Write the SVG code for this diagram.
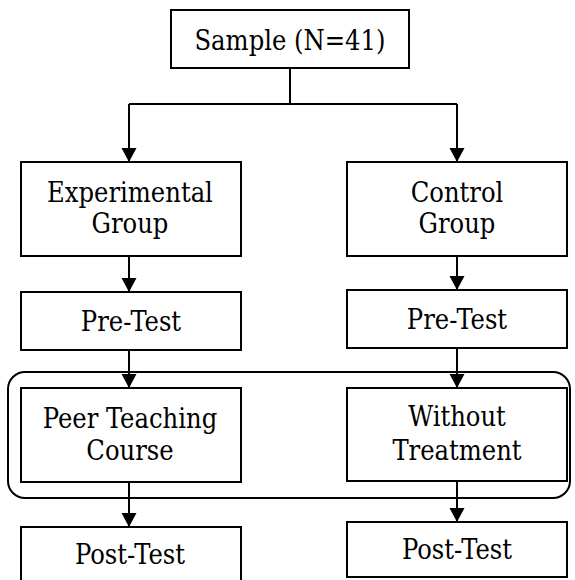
<svg xmlns="http://www.w3.org/2000/svg" width="575" height="580" viewBox="0 0 575 580">
<style>
.box{fill:#fff;stroke:#000;stroke-width:2}
.frame{fill:none;stroke:#000;stroke-width:2}
.ln{fill:none;stroke:#000;stroke-width:2}
text{font-family:"DejaVu Serif Condensed","DejaVu Serif","Liberation Serif",serif;font-stretch:condensed;font-size:27px;fill:#000;text-anchor:middle}
</style>
<defs>
<marker id="arr" markerUnits="userSpaceOnUse" markerWidth="16" markerHeight="16" refX="14" refY="7.5" orient="auto" viewBox="0 0 16 16">
<path d="M0,0 L14,7.5 L0,15 z" fill="#000"/>
</marker>
</defs>
<rect class="frame" x="8" y="372" width="562" height="126" rx="17"/>
<g id="connectors">
<path class="ln" d="M290,68 V104 M129,104 H457"/>
<path class="ln" d="M129,104 V162" marker-end="url(#arr)"/>
<path class="ln" d="M457,104 V162" marker-end="url(#arr)"/>
<path class="ln" d="M129,256 V292" marker-end="url(#arr)"/>
<path class="ln" d="M457,256 V290" marker-end="url(#arr)"/>
<path class="ln" d="M129,350 V388" marker-end="url(#arr)"/>
<path class="ln" d="M457,348 V388" marker-end="url(#arr)"/>
<path class="ln" d="M129,482 V527" marker-end="url(#arr)"/>
<path class="ln" d="M457,481 V522" marker-end="url(#arr)"/>
</g>
<g id="sample"><rect class="box" x="171" y="10" width="238" height="58"/><text x="290" y="50">Sample (N=41)</text></g>
<g id="experimental"><rect class="box" x="21" y="162" width="220" height="94"/><text x="130" y="202">Experimental</text><text x="130" y="233">Group</text></g>
<g id="control"><rect class="box" x="347" y="162" width="220" height="94"/><text x="457" y="202">Control</text><text x="457" y="233">Group</text></g>
<g id="pretest-exp"><rect class="box" x="21" y="292" width="220" height="58"/><text x="131" y="331">Pre-Test</text></g>
<g id="pretest-ctrl"><rect class="box" x="347" y="290" width="220" height="58"/><text x="457" y="329">Pre-Test</text></g>
<g id="peer"><rect class="box" x="21" y="388" width="220" height="94"/><text x="130" y="428">Peer Teaching</text><text x="130" y="460">Course</text></g>
<g id="without"><rect class="box" x="347" y="388" width="220" height="93"/><text x="457" y="426">Without</text><text x="457" y="460">Treatment</text></g>
<g id="posttest-exp"><rect class="box" x="21" y="527" width="220" height="60"/><text x="130" y="564">Post-Test</text></g>
<g id="posttest-ctrl"><rect class="box" x="347" y="522" width="220" height="55"/><text x="457" y="559">Post-Test</text></g>
</svg>
